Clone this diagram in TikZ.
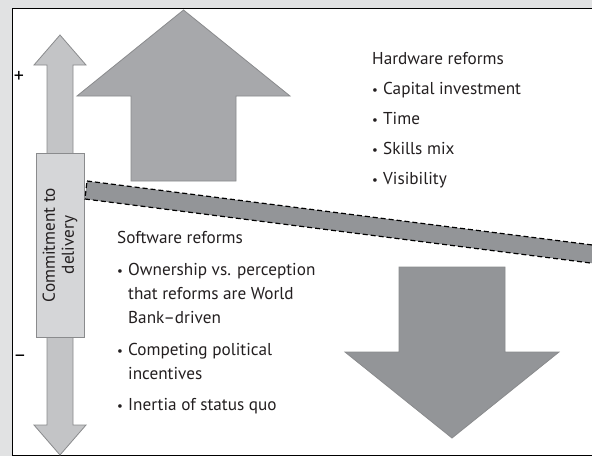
\documentclass[tikz,border=0pt]{standalone}
\usepackage{fontspec}
\setmainfont{PT Sans}
\definecolor{pagebg}{HTML}{E1E2E3}
\definecolor{edgegray}{HTML}{8A8B8D}
\definecolor{lightarrow}{HTML}{C3C4C6}
\definecolor{boxgray}{HTML}{D5D6D8}
\definecolor{upgray}{HTML}{A7A8AB}
\definecolor{downgray}{HTML}{939598}
\definecolor{inkgray}{HTML}{231F20}
\newcommand{\itm}{\makebox[11pt][l]{\raisebox{0.3pt}{\scalebox{0.75}{\textbullet}}}}
\newcommand{\cont}{\hspace*{11pt}}

\begin{document}
\begin{tikzpicture}[x=1pt,y=-1pt,
  bigarrow/.style={draw=edgegray,line width=0.8pt,line join=miter},
  textlist/.style={anchor=north west,align=left,inner sep=0pt,
    font=\fontsize{17.2}{24}\selectfont,text=inkgray}]
\clip (0,0) rectangle (592,456);
\fill[pagebg] (0,0) rectangle (592,456);
% white panel, open at the right
\draw[line width=1pt,fill=white] (12,8) rectangle (620,455);

% commitment scale
\draw[bigarrow,fill=lightarrow] (60,35) -- (86,65) -- (73,65) -- (73,425)
  -- (86,425) -- (60,455) -- (34,425) -- (47,425) -- (47,65) -- (34,65) -- cycle;
\node (commit) [draw=edgegray,line width=0.8pt,fill=boxgray,rotate=90,
  minimum width=184pt,minimum height=48pt,inner sep=0pt,align=center,
  font=\fontsize{17.2}{19}\selectfont,text=inkgray] at (60,245)
  {Commitment to\\delivery};
\node (plus) at (19,77) {\fontsize{20}{20}\selectfont +};
\node (minus) at (20,358) {\fontsize{20}{20}\selectfont --};

% hardware side lifts, software side drops
\draw[bigarrow,fill=upgray] (183.5,10) -- (290,96) -- (236,96) -- (236,181)
  -- (131,181) -- (131,96) -- (77,96) -- cycle;
\draw[bigarrow,fill=downgray] (399,267) -- (505,267) -- (505,352) -- (559,352)
  -- (452,438) -- (345,352) -- (399,352) -- cycle;

% the tilted plank
\coordinate (pl-tl) at (87,181);
\coordinate (pl-bl) at (85,199);
\coordinate (pl-tr) at (640,251);
\coordinate (pl-br) at (638,269);
\draw[fill=downgray,line width=1.2pt,dash pattern=on 5pt off 3pt]
  (pl-tl) -- (pl-tr) -- (pl-br) -- (pl-bl) -- cycle;

\node (hwlist) [textlist] at (372,52)
  {Hardware reforms\\[6pt]
   \itm Capital investment\\[6pt]
   \itm Time\\[6pt]
   \itm Skills mix\\[6pt]
   \itm Visibility};
\node (swlist) [textlist] at (117,231)
  {Software reforms\\[8pt]
   \itm Ownership vs. perception\\
   \cont that reforms are World\\
   \cont Bank--driven\\[8pt]
   \itm Competing political\\
   \cont incentives\\[7pt]
   \itm Inertia of status quo};
\end{tikzpicture}
\end{document}
